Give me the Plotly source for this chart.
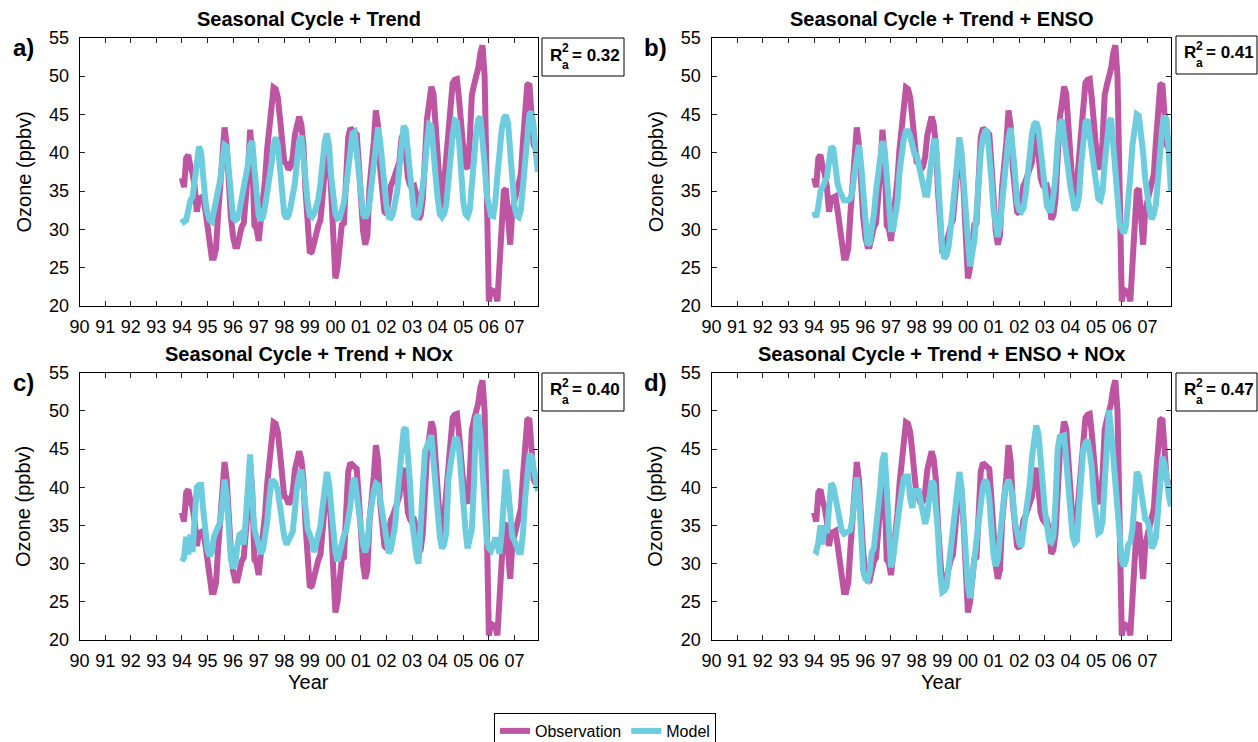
import plotly.graph_objects as go

W, H = 1258, 742
FONT = "Liberation Sans, Arial, Helvetica, sans-serif"
OBS_COLOR = "#BD55A3"
MOD_COLOR = "#6DCCDD"

# Monthly time axis, Jan 1994 .. Dec 2007 (decimal years)
n_months = 168
time = [1994 + k / 12 for k in range(n_months)]

year_ticks = list(range(1990, 2008))
year_labels = ["90", "91", "92", "93", "94", "95", "96", "97", "98", "99",
               "00", "01", "02", "03", "04", "05", "06", "07"]
ozone_ticks = [20, 25, 30, 35, 40, 45, 50, 55]

panel_titles = ["Seasonal Cycle + Trend",
                "Seasonal Cycle + Trend + ENSO",
                "Seasonal Cycle + Trend + NOx",
                "Seasonal Cycle + Trend + ENSO + NOx"]
panel_letters = ["a)", "b)", "c)", "d)"]
r2_values = ["0.32", "0.41", "0.40", "0.47"]

# Observed monthly ozone (ppbv)
observation = [
    36.7, 35.5, 39.3, 39.7, 38.2, 37.3, 35.5, 32.3, 34.0, 34.2, 34.3, 32.5,
    30.5, 28.0, 26.3, 26.3, 27.5, 32.0, 36.5, 40.5, 43.3, 41.0, 35.5, 31.5,
    29.0, 27.8, 27.8, 29.5, 30.3, 30.8, 33.3, 37.5, 43.0, 39.5, 30.5, 30.1,
    28.5, 30.8, 33.5, 36.5, 40.5, 43.5, 45.5, 48.5, 48.3, 47.2, 44.5, 41.0,
    38.8, 38.6, 37.8, 38.2, 39.5, 42.3, 43.8, 44.7, 43.7, 41.0, 35.0, 29.0,
    26.9, 27.1, 28.3, 29.8, 30.5, 31.2, 33.8, 37.5, 41.5, 39.5, 35.0, 30.0,
    23.6, 25.0, 28.5, 30.6, 30.8, 36.0, 42.0, 43.2, 43.0, 42.8, 42.4, 38.5,
    33.0, 29.8, 28.0, 29.2, 35.5, 40.0, 41.4, 45.5, 43.5, 38.0, 34.0, 32.3,
    32.0, 34.5, 35.7, 36.3, 37.0, 37.8, 38.8, 41.9, 42.5, 40.0, 36.7, 35.8,
    35.4, 35.6, 34.5, 31.3, 31.8, 34.0, 40.0, 44.5, 46.5, 48.6, 47.7, 42.7,
    38.4, 35.5, 32.8, 36.0, 40.0, 44.0, 47.5, 49.1, 49.5, 49.6, 47.0, 43.0,
    40.5, 38.3, 37.9, 41.5, 47.5, 48.8, 49.7, 51.0, 53.0, 54.0, 50.0, 28.0,
    20.6, 22.1, 22.0, 21.8, 20.6, 25.5, 33.0, 35.0, 35.3, 30.0, 28.0, 32.5,
    33.5, 34.5, 36.0, 37.2, 41.5, 45.5, 48.8, 49.0, 45.0, 41.0, 40.5, 41.0,
]

# Regression model: seasonal cycle + trend
model_trend = [
    31.4, 31.0, 31.2, 33.2, 33.8, 34.2, 36.5, 39.5, 40.8, 40.0, 36.5, 33.8,
    32.0, 31.2, 31.0, 32.5, 33.8, 34.5, 36.5, 39.0, 41.0, 40.8, 37.5, 33.5,
    31.5, 31.2, 31.4, 32.5, 34.0, 34.8, 36.0, 38.5, 41.0, 41.5, 38.0, 33.5,
    31.8, 31.2, 31.6, 33.0, 34.5, 36.0, 38.5, 41.0, 42.0, 41.0, 37.5, 34.0,
    32.0, 31.4, 31.8, 33.0, 34.5, 36.0, 39.0, 41.5, 42.2, 40.0, 36.5, 33.5,
    31.8, 31.6, 32.0, 33.0, 34.0, 36.0, 39.0, 41.5, 42.5, 41.0, 37.0, 33.5,
    32.0, 31.4, 31.5, 32.5, 33.5, 35.5, 38.5, 41.0, 42.5, 42.7, 40.0, 37.5,
    33.0, 32.0, 31.5, 32.0, 33.5, 36.0, 39.0, 41.5, 43.3, 41.5, 38.0, 34.5,
    33.0, 31.6, 31.5, 32.0, 33.5, 35.0, 38.0, 41.5, 43.5, 43.0, 40.0, 36.0,
    33.0, 31.8, 31.6, 32.0, 33.5, 35.5, 38.0, 41.5, 43.7, 43.5, 41.0, 37.0,
    34.0, 32.0, 31.6, 32.0, 33.2, 36.5, 40.0, 42.3, 44.2, 44.0, 41.5, 36.5,
    33.5, 32.0, 31.7, 32.5, 35.0, 39.0, 42.5, 44.3, 44.7, 42.0, 38.5, 34.5,
    32.5, 31.8, 31.7, 33.5, 37.0, 40.5, 43.0, 44.5, 44.9, 43.8, 40.0, 36.0,
    33.0, 31.8, 31.6, 32.5, 35.5, 39.5, 43.3, 45.0, 45.3, 43.5, 40.0, 37.5,
]

# Regression model: seasonal cycle + trend + ENSO
model_enso = [
    32.3, 31.6, 33.0, 35.0, 35.5, 36.0, 36.8, 38.8, 40.8, 40.5, 37.5, 36.0,
    35.0, 34.3, 33.8, 33.8, 33.8, 34.0, 35.0, 37.5, 40.0, 41.0, 38.5, 34.5,
    30.0, 28.0, 28.2, 30.0, 32.0, 35.0, 37.5, 40.0, 41.5, 40.5, 37.0, 32.5,
    30.0, 30.0, 31.5, 33.5, 37.5, 40.5, 41.8, 42.8, 42.8, 42.2, 40.5, 39.8,
    39.7, 38.5, 37.3, 35.5, 34.5, 34.5, 37.0, 40.0, 41.5, 41.5, 37.0, 31.5,
    27.5, 26.2, 26.6, 27.8, 30.0, 33.0, 36.0, 39.2, 42.0, 40.0, 35.5, 31.5,
    28.5, 25.2, 26.5, 28.5, 32.0, 36.5, 40.0, 42.0, 42.8, 43.0, 40.5, 36.5,
    32.5, 30.0, 29.0, 30.5, 33.5, 36.8, 40.0, 42.0, 43.2, 41.0, 37.5, 33.5,
    32.5, 32.3, 32.8, 34.5, 37.5, 40.5, 42.5, 43.7, 44.0, 43.0, 40.0, 37.7,
    35.0, 33.0, 32.5, 32.5, 34.5, 37.0, 41.5, 43.8, 44.3, 42.5, 40.0, 37.7,
    35.5, 33.8, 32.5, 33.0, 34.3, 38.5, 41.5, 44.0, 44.3, 42.0, 39.5, 37.0,
    35.0, 34.0, 33.8, 35.0, 38.5, 42.5, 44.0, 44.5, 41.0, 37.0, 33.4, 30.8,
    30.0, 29.5, 30.5, 33.0, 37.0, 41.0, 44.0, 45.0, 44.8, 43.0, 40.0, 36.5,
    34.0, 32.5, 31.3, 32.0, 33.3, 37.5, 41.0, 43.5, 44.8, 44.3, 40.0, 35.0,
]

# Regression model: seasonal cycle + trend + NOx
model_nox = [
    30.3, 30.8, 33.5, 31.2, 33.8, 31.5, 36.0, 40.0, 40.3, 40.3, 37.0, 34.0,
    31.8, 31.0, 31.5, 33.5, 34.3, 34.7, 35.5, 38.0, 41.0, 39.0, 34.0, 30.5,
    29.4, 30.0, 32.3, 33.8, 34.0, 32.5, 36.0, 40.5, 44.3, 38.5, 34.5, 33.5,
    32.0, 31.3, 31.8, 33.5, 35.5, 38.5, 40.8, 40.8, 40.5, 39.5, 37.0, 35.0,
    33.5, 32.5, 32.9, 33.6, 34.2, 37.5, 40.0, 41.5, 42.3, 40.0, 37.0, 34.5,
    33.8, 33.0, 31.5, 32.5, 33.6, 35.0, 37.5, 40.3, 42.0, 40.5, 37.5, 33.5,
    31.5, 30.3, 31.5, 33.2, 33.8, 34.2, 35.5, 37.5, 40.5, 41.2, 39.0, 37.0,
    34.0, 32.5, 31.5, 32.5, 36.0, 38.1, 39.5, 40.5, 40.3, 38.5, 36.8, 34.5,
    32.9, 31.4, 31.8, 33.5, 35.0, 38.5, 41.5, 43.8, 47.5, 47.8, 45.0, 40.5,
    35.5, 33.0, 31.0, 30.0, 33.8, 40.0, 44.7, 45.5, 46.2, 46.8, 43.5, 39.0,
    36.8, 33.5, 32.0, 32.5, 34.0, 41.0, 43.5, 44.8, 46.3, 46.3, 45.0, 40.5,
    37.0, 34.5, 32.0, 33.5, 34.5, 40.5, 49.0, 49.5, 47.0, 42.5, 38.0, 33.0,
    32.0, 31.7, 32.5, 33.4, 32.5, 31.3, 34.0, 38.0, 42.3, 40.0, 36.0, 33.5,
    33.0, 32.2, 31.5, 31.5, 34.0, 38.5, 41.5, 44.3, 44.0, 42.5, 40.5, 39.5,
]

# Regression model: seasonal cycle + trend + ENSO + NOx
model_enso_nox = [
    31.8, 31.6, 32.8, 35.0, 32.5, 35.0, 34.0, 38.8, 40.5, 40.1, 38.5, 36.5,
    35.3, 34.3, 33.9, 34.0, 34.3, 34.4, 36.0, 39.0, 41.3, 39.0, 34.5, 29.0,
    28.0, 27.8, 28.8, 31.5, 32.0, 34.5, 36.5, 40.0, 43.5, 44.5, 40.0, 33.5,
    29.5, 30.8, 33.5, 35.0, 37.5, 39.5, 41.2, 41.4, 41.4, 38.5, 37.3, 39.5,
    39.5, 39.5, 38.0, 36.5, 35.2, 36.5, 39.0, 40.8, 40.5, 37.5, 34.0, 28.8,
    26.3, 26.5, 27.0, 29.5, 32.0, 35.0, 37.5, 40.0, 42.0, 40.0, 35.0, 31.0,
    27.0, 25.5, 27.5, 30.5, 33.0, 35.5, 38.5, 40.0, 41.0, 40.5, 38.5, 34.5,
    31.0, 29.7, 30.5, 33.5, 36.5, 39.0, 40.2, 41.0, 40.0, 38.9, 35.5, 33.5,
    32.8, 32.2, 34.0, 36.5, 37.8, 40.5, 44.0, 46.5, 48.1, 47.0, 44.5, 40.5,
    37.0, 34.5, 33.0, 32.8, 33.5, 38.0, 45.0, 46.6, 46.8, 46.8, 43.5, 40.0,
    36.0, 33.5, 32.7, 33.0, 37.5, 42.5, 45.0, 45.8, 46.2, 44.5, 42.5, 38.5,
    35.5, 34.0, 34.2, 35.5, 40.5, 46.5, 50.1, 47.5, 44.0, 40.5, 35.5, 32.0,
    30.3, 29.7, 30.5, 32.5, 32.8, 34.5, 38.0, 42.0, 41.5, 39.6, 37.0, 35.8,
    35.6, 34.5, 32.0, 32.5, 33.5, 37.5, 41.0, 44.0, 43.0, 41.5, 38.9, 37.5,
]

models = [model_trend, model_enso, model_nox, model_enso_nox]


def px_x(x):
    return x / W


def px_y(y):
    return 1 - y / H


# Plot-area rectangles in pixels: (left, right, top, bottom)
areas = [(79.6, 538.0, 37.7, 306.0),
         (711.5, 1171.0, 37.7, 306.0),
         (79.6, 538.0, 372.7, 640.0),
         (711.5, 1171.0, 372.7, 640.0)]
# Top-left corners of the R^2 boxes in pixels
r2_boxes = [(542, 38), (1176, 36), (542, 373), (1176, 373)]

fig = go.Figure()

axis_common = dict(
    showline=True, linecolor="black", linewidth=1, mirror="ticks",
    ticks="inside", ticklen=5, tickwidth=1, tickcolor="#222",
    showgrid=False, zeroline=False, fixedrange=True,
    tickfont=dict(family=FONT, size=18, color="black"),
)

layout = dict(
    width=W, height=H,
    margin=dict(l=0, r=0, t=0, b=0, autoexpand=False),
    paper_bgcolor="white", plot_bgcolor="white",
    font=dict(family=FONT, color="black"),
    showlegend=True,
    legend=dict(
        orientation="h", x=px_x(605), xanchor="center",
        y=px_y(713), yanchor="top",
        bordercolor="black", borderwidth=1, bgcolor="white",
        font=dict(family=FONT, size=16, color="black"),
        itemwidth=30, tracegroupgap=0,
    ),
)

annotations = []
shapes = []

for p in range(4):
    left, right, top, bottom = areas[p]
    sfx = "" if p == 0 else str(p + 1)
    xa, ya = "x" + sfx, "y" + sfx

    layout["xaxis" + sfx] = dict(
        axis_common, anchor=ya, domain=[px_x(left), px_x(right)],
        range=[1990, 2007.92], tickmode="array",
        tickvals=year_ticks, ticktext=year_labels, ticklabelstandoff=4,
    )
    layout["yaxis" + sfx] = dict(
        axis_common, anchor=xa, domain=[px_y(bottom), px_y(top)],
        range=[20, 55], tickmode="array", tickvals=ozone_ticks,
        ticklabelstandoff=6,
    )

    fig.add_trace(go.Scatter(
        x=time, y=observation, xaxis=xa, yaxis=ya, mode="lines",
        line=dict(color=OBS_COLOR, width=6), name="Observation",
        showlegend=(p == 0), hoverinfo="skip",
    ))
    fig.add_trace(go.Scatter(
        x=time, y=models[p], xaxis=xa, yaxis=ya, mode="lines",
        line=dict(color=MOD_COLOR, width=6), name="Model",
        showlegend=(p == 0), hoverinfo="skip",
    ))

    cx = (left + right) / 2
    cy = (top + bottom) / 2
    # panel title
    annotations.append(dict(
        text="<b>" + panel_titles[p] + "</b>", x=px_x(cx), y=px_y(top - 19),
        xref="paper", yref="paper", showarrow=False,
        xanchor="center", yanchor="middle",
        font=dict(family=FONT, size=20, color="black")))
    # panel letter
    annotations.append(dict(
        text="<b>" + panel_letters[p] + "</b>", x=px_x(left - 56),
        y=px_y(top + 10), xref="paper", yref="paper", showarrow=False,
        xanchor="center", yanchor="middle",
        font=dict(family=FONT, size=24, color="black")))
    # y-axis title
    annotations.append(dict(
        text="Ozone (ppbv)", x=px_x(left - 56), y=px_y(cy),
        xref="paper", yref="paper", showarrow=False, textangle=-90,
        xanchor="center", yanchor="middle",
        font=dict(family=FONT, size=20, color="black")))
    # x-axis title on the lower row
    if p >= 2:
        annotations.append(dict(
            text="Year", x=px_x(cx), y=px_y(bottom + 42),
            xref="paper", yref="paper", showarrow=False,
            xanchor="center", yanchor="middle",
            font=dict(family=FONT, size=20, color="black")))

    # adjusted R^2 box
    bx, by = r2_boxes[p]
    shapes.append(dict(
        type="rect", xref="paper", yref="paper",
        x0=px_x(bx), x1=px_x(min(bx + 82, W - 1)),
        y0=px_y(by + 38), y1=px_y(by),
        line=dict(color="black", width=1), fillcolor="white"))
    annotations.append(dict(
        text="<b>R</b>", x=px_x(bx + 6), y=px_y(by + 17),
        xref="paper", yref="paper", showarrow=False,
        xanchor="left", yanchor="middle",
        font=dict(family=FONT, size=17, color="black")))
    annotations.append(dict(
        text="<b>2</b>", x=px_x(bx + 18), y=px_y(by + 10),
        xref="paper", yref="paper", showarrow=False,
        xanchor="left", yanchor="middle",
        font=dict(family=FONT, size=12, color="black")))
    annotations.append(dict(
        text="<b>a</b>", x=px_x(bx + 18), y=px_y(by + 27),
        xref="paper", yref="paper", showarrow=False,
        xanchor="left", yanchor="middle",
        font=dict(family=FONT, size=12, color="black")))
    annotations.append(dict(
        text="<b>= " + r2_values[p] + "</b>", x=px_x(bx + 28),
        y=px_y(by + 17), xref="paper", yref="paper", showarrow=False,
        xanchor="left", yanchor="middle",
        font=dict(family=FONT, size=17, color="black")))

layout["annotations"] = annotations
layout["shapes"] = shapes
fig.update_layout(layout)

fig.write_html("out.html")
